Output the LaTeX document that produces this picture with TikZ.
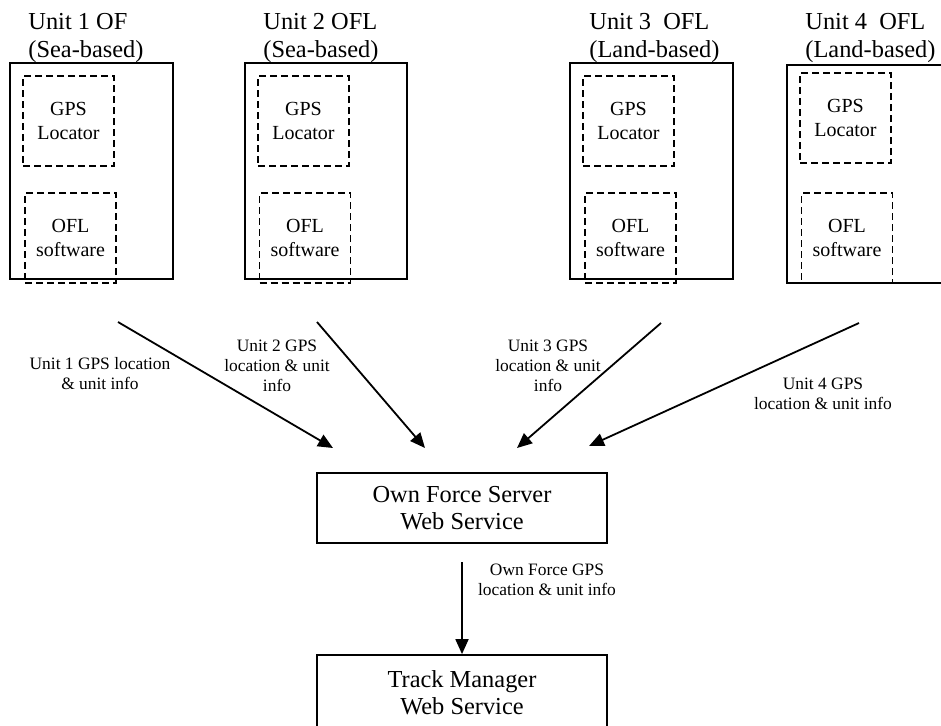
\documentclass[tikz,border=0pt]{standalone}
\usepackage{fontspec}
\setmainfont{Liberation Serif}
\usetikzlibrary{arrows.meta}

\begin{document}
\begin{tikzpicture}[x = 0.5pt, y = -0.5pt,
		unitframe/.style = {draw, line width = 0.9pt, inner sep = 0pt},
		partbox/.style = {draw, dash pattern = on 3.5pt off 2pt, line width = 0.8pt, minimum width = 45.5pt, minimum height = 45pt, inner sep = 0pt, align = center, font = \fontsize{10}{12}\selectfont},
		unittitle/.style = {anchor = base west, align = left, inner sep = 0pt, font = \fontsize{12.2}{14}\selectfont},
		svcbox/.style = {draw, line width = 0.9pt, minimum width = 145pt, align = center, font = \fontsize{12.2}{13.5}\selectfont},
		flowlabel/.style = {align = center, inner sep = 0pt, font = \fontsize{8.7}{10}\selectfont},
		flow/.style = {-{Triangle[length = 7.5pt, width = 6.5pt]}, line width = 0.9pt}]
			\path[use as bounding box] (0, 0) rectangle (941, 725);
			\clip (0, 0) rectangle (941, 725);
			% the four units
			\node[unittitle] (t1) at (28, 57) {Unit 1 OF\\(Sea-based)};
			\node[unittitle] (t2) at (263, 57) {Unit 2 OFL\\(Sea-based)};
			\node[unittitle] (t3) at (589, 57) {Unit 3 \ OFL\\(Land-based)};
			\node[unittitle] (t4) at (805, 57) {Unit 4 \ OFL\\(Land-based)};
			\node[unitframe, minimum width = 81.5pt, minimum height = 108pt] (u1) at (91.5, 171) {};
			\node[unitframe, minimum width = 81pt, minimum height = 108pt] (u2) at (326, 171) {};
			\node[unitframe, minimum width = 81.5pt, minimum height = 108pt] (u3) at (651.5, 171) {};
			\node[unitframe, minimum width = 86.5pt, minimum height = 109pt] (u4) at (873.5, 174) {};
			\node[partbox] (gps1) at (68.5, 121) {GPS\\Locator};
			\node[partbox] (ofl1) at (70.5, 238) {OFL\\software};
			\node[partbox] (gps2) at (303.5, 121) {GPS\\Locator};
			\node[partbox] (ofl2) at (305, 238) {OFL\\software};
			\node[partbox] (gps3) at (628.5, 121) {GPS\\Locator};
			\node[partbox] (ofl3) at (630.5, 238) {OFL\\software};
			\node[partbox] (gps4) at (845.5, 118) {GPS\\Locator};
			\node[partbox] (ofl4) at (847, 238) {OFL\\software};
			% web services
			\node[svcbox, minimum height = 35pt] (ofs) at (462, 508) {Own Force Server\\Web Service};
			\node[svcbox, minimum height = 37.5pt] (tm) at (462, 692.5) {Track Manager\\Web Service};
			% flows
			\coordinate (u1out) at (118, 322);
			\coordinate (u2out) at (317, 322);
			\coordinate (u3out) at (661, 323);
			\coordinate (u4out) at (859, 323);
			\coordinate (in1) at (333, 448);
			\coordinate (in2) at (425, 448);
			\coordinate (in3) at (517, 448);
			\coordinate (in4) at (589, 446);
			\coordinate (ofsout) at (462, 562);
			\draw[flow] (u1out) -- (in1);
			\draw[flow] (u2out) -- (in2);
			\draw[flow] (u3out) -- (in3);
			\draw[flow] (u4out) -- (in4);
			\draw[flow] (ofsout) -- (tm.north);
			\node[flowlabel] (l1) at (100, 374) {Unit 1 GPS location\\\& unit info};
			\node[flowlabel] (l2) at (277, 366) {Unit 2 GPS\\location \& unit\\info};
			\node[flowlabel] (l3) at (548, 366) {Unit 3 GPS\\location \& unit\\info};
			\node[flowlabel] (l4) at (823, 394) {Unit 4 GPS\\location \& unit info};
			\node[flowlabel] (l5) at (547, 580) {Own Force GPS\\location \& unit info};
		\end{tikzpicture}
\end{document}
